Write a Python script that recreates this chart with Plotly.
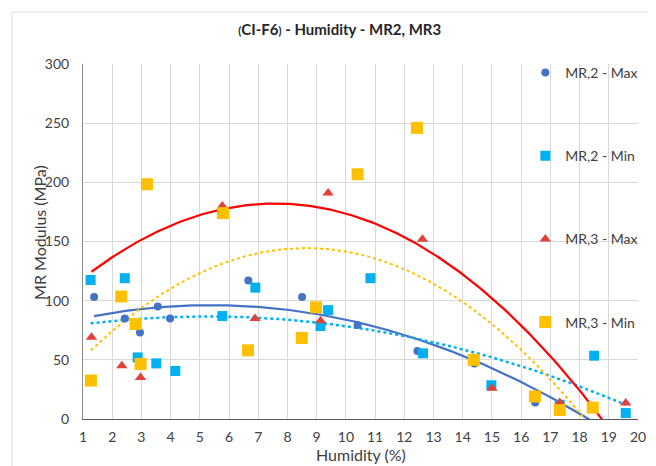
import numpy as np
import plotly.graph_objects as go

# ---- data ----
mr2_max_x = [1.38, 2.43, 2.95, 3.56, 3.98, 6.66, 8.50, 10.40, 12.45, 14.40, 16.48, 18.45]
mr2_max_y = [103, 85, 73, 95, 85, 117, 103, 79.5, 57.5, 47, 14, 9]

mr2_min_x = [1.26, 2.43, 2.87, 3.51, 4.16, 5.77, 6.90, 9.13, 9.39, 10.84, 12.64, 14.98, 17.32, 18.50, 19.58]
mr2_min_y = [117.5, 119, 52, 47, 40.6, 87, 111, 78.5, 92, 119, 55.5, 28.5, 12, 53.5, 5]

mr3_max_x = [1.29, 2.33, 2.97, 5.77, 6.89, 9.13, 9.39, 12.62, 15.00, 17.32, 19.58]
mr3_max_y = [69, 45, 35, 180, 85, 83, 191, 152, 26, 14, 13.5]

mr3_min_x = [1.27, 2.31, 2.80, 2.97, 3.19, 5.79, 6.65, 8.49, 8.98, 10.40, 12.43, 14.38, 16.47, 17.32, 18.45]
mr3_min_y = [32.5, 103.5, 80.3, 46.5, 198.4, 174, 58, 68.5, 94.4, 206.8, 246, 50, 19, 7.6, 9.6]

# MR,3 - Max trendline as drawn in the reference (2nd-order polynomial)
mr3_max_trend = [-1.455, 22.07, 98.4]

x_ticks = list(range(1, 21))
y_ticks = [0, 50, 100, 150, 200, 250, 300]

FONT = "Lato"
TXT = "#404040"

series = [
    ("MR,2 - Max", mr2_max_x, mr2_max_y, dict(symbol="circle", size=8, color="#4472C4"),
     dict(color="#4472C4", width=2.2, dash="solid"), None),
    ("MR,2 - Min", mr2_min_x, mr2_min_y, dict(symbol="square", size=10, color="#00B0F0"),
     dict(color="#00B0F0", width=2.5, dash="dot"), None),
    ("MR,3 - Max", mr3_max_x, mr3_max_y, dict(symbol="triangle-up", size=10, color="#E0413A"),
     dict(color="#FF0000", width=2.2, dash="solid"), mr3_max_trend),
    ("MR,3 - Min", mr3_min_x, mr3_min_y, dict(symbol="square", size=12, color="#FFC000"),
     dict(color="#FFC000", width=2, dash="dot"), None),
]

fig = go.Figure()

# trendlines (2nd order polynomials)
for name, xs, ys, mk, ln, coef in series:
    c = np.polyfit(xs, ys, 2) if coef is None else coef
    xx = np.linspace(min(xs), max(xs), 300)
    fig.add_trace(go.Scatter(x=xx, y=np.polyval(c, xx), mode="lines", line=ln,
                             showlegend=False, hoverinfo="skip"))

for i, (name, xs, ys, mk, ln, coef) in enumerate(series):
    fig.add_trace(go.Scatter(x=xs, y=ys, mode="markers", name=name, marker=mk,
                             legendgroup=f"g{i}"))

# the page body has an 8px margin, so the figure is 8px smaller than the window
fig.update_layout(
    width=648, height=458,
    margin=dict(l=75, r=18, t=56, b=47, autoexpand=False),
    paper_bgcolor="white", plot_bgcolor="white",
    font=dict(family=FONT, color=TXT, size=14),
    title=dict(text="<span style='font-size:11px'>(</span>CI-F6<span style='font-size:11px'>)</span> - Humidity - MR2, MR3",
               x=0.512, xanchor="center", y=0.952, yanchor="middle",
               font=dict(family=FONT, size=15, color="#262626", weight="bold")),
    legend=dict(x=0.797, xanchor="left", y=1.02, yanchor="top", bgcolor="rgba(0,0,0,0)",
                tracegroupgap=62, traceorder="grouped", font=dict(size=14, color=TXT),
                itemsizing="trace", maxheight=450),
    shapes=[dict(type="rect", xref="paper", yref="paper", x0=-0.128, x1=1.05, y0=-0.2, y1=1.146,
                 line=dict(color="#D9D9D9", width=1), fillcolor="rgba(0,0,0,0)", layer="below")],
    annotations=[
        dict(text="Humidity (%)", xref="paper", yref="paper", x=0.5, y=-0.1,
             xanchor="center", yanchor="middle", showarrow=False,
             font=dict(size=16, color=TXT)),
        dict(text="MR Modulus (MPa)", xref="paper", yref="paper", x=-0.0775, y=0.527,
             xanchor="center", yanchor="middle", textangle=-90, showarrow=False,
             font=dict(size=16, color=TXT)),
    ],
)

fig.update_xaxes(range=[1, 20], tickvals=x_ticks, showgrid=True, gridcolor="#D9D9D9", gridwidth=1,
                 showline=True, linecolor="#595959", linewidth=1.3, zeroline=False, ticks="",
                 ticklabelstandoff=5, tickfont=dict(size=14, color=TXT))
fig.update_yaxes(range=[0, 300], tickvals=y_ticks, showgrid=True, gridcolor="#D9D9D9", gridwidth=1,
                 showline=True, linecolor="#8C8C8C", linewidth=1, zeroline=False, ticks="",
                 ticklabelstandoff=10, tickfont=dict(size=14, color=TXT))

fig.write_html("out.html")
